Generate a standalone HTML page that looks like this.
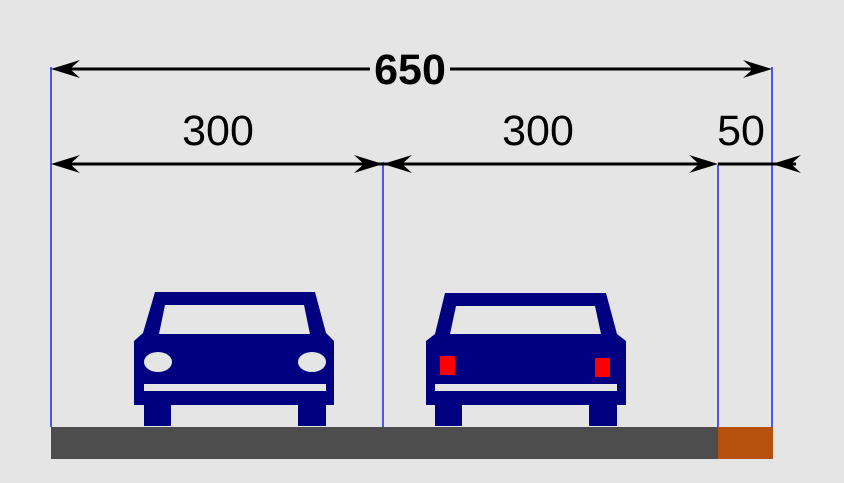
<!DOCTYPE html>
<html><head><style>html,body{margin:0;padding:0;background:#e5e5e5}</style></head>
<body>
<svg width="844" height="478" viewBox="0 0 844 478" xmlns="http://www.w3.org/2000/svg">
<rect width="844" height="478" fill="#e5e5e5"/>
<!-- road -->
<rect x="51" y="427" width="667" height="32" fill="#4d4d4d"/>
<rect x="718" y="427" width="55" height="32" fill="#b5500f"/>
<!-- extension lines -->
<g stroke="#2222ff" stroke-width="1.5">
<line x1="51" y1="67" x2="51" y2="427"/>
<line x1="383" y1="162" x2="383" y2="427"/>
<line x1="718" y1="165" x2="718" y2="427"/>
<line x1="772" y1="67" x2="772" y2="427"/>
</g>
<!-- dim lines -->
<g stroke="#000" stroke-width="3" fill="none">
<line x1="60" y1="69" x2="370" y2="69"/>
<line x1="450" y1="69" x2="763" y2="69"/>
<line x1="60" y1="164" x2="709" y2="164"/>
<line x1="718" y1="164" x2="796" y2="164"/>
</g>
<g fill="#000">
<path d="M51,69 L80,60 L70,69 L80,78 Z"/>
<path d="M772,69 L743,60 L753,69 L743,78 Z"/>
<path d="M51,164 L80,155 L70,164 L80,173 Z"/>
<path d="M383,164 L354,155 L364,164 L354,173 Z"/>
<path d="M383,164 L412,155 L402,164 L412,173 Z"/>
<path d="M718,164 L689,155 L699,164 L689,173 Z"/>
<path d="M772,164 L801,155 L791,164 L801,173 Z"/>
</g>
<g font-family="Liberation Sans, sans-serif" font-size="43" text-anchor="middle" fill="#000">
<text x="410" y="84" font-weight="bold">650</text>
<text x="218" y="145">300</text>
<text x="538" y="145">300</text>
<text x="741" y="145">50</text>
</g>
<g fill="#000080">
<path d="M155,292 L315,292 L326,333 L334,341 L334,405 L326,405 L326,426 L298,426 L298,405 L171,405 L171,426 L144,426 L144,405 L134,405 L134,341 L143,333 Z"/>
<path d="M445,293 L606,293 L617,334 L626,341 L626,405 L617,405 L617,426 L589,426 L589,405 L462,405 L462,426 L435,426 L435,405 L426,405 L426,341 L435,334 Z"/>
</g>
<g fill="#e5e5e5">
<path d="M165,305 L304,305 L310,334 L159,334 Z"/>
<ellipse cx="158" cy="362" rx="14" ry="10"/>
<ellipse cx="312" cy="362" rx="14" ry="10"/>
<rect x="144" y="384" width="182" height="7"/>
<path d="M456,306 L595,306 L601,334 L450,334 Z"/>
<rect x="435" y="384" width="182" height="7"/>
</g>
<rect x="440" y="356" width="15" height="19" fill="#ff0000"/>
<rect x="595" y="358" width="15" height="19" fill="#ff0000"/>
</svg>
</body></html>
